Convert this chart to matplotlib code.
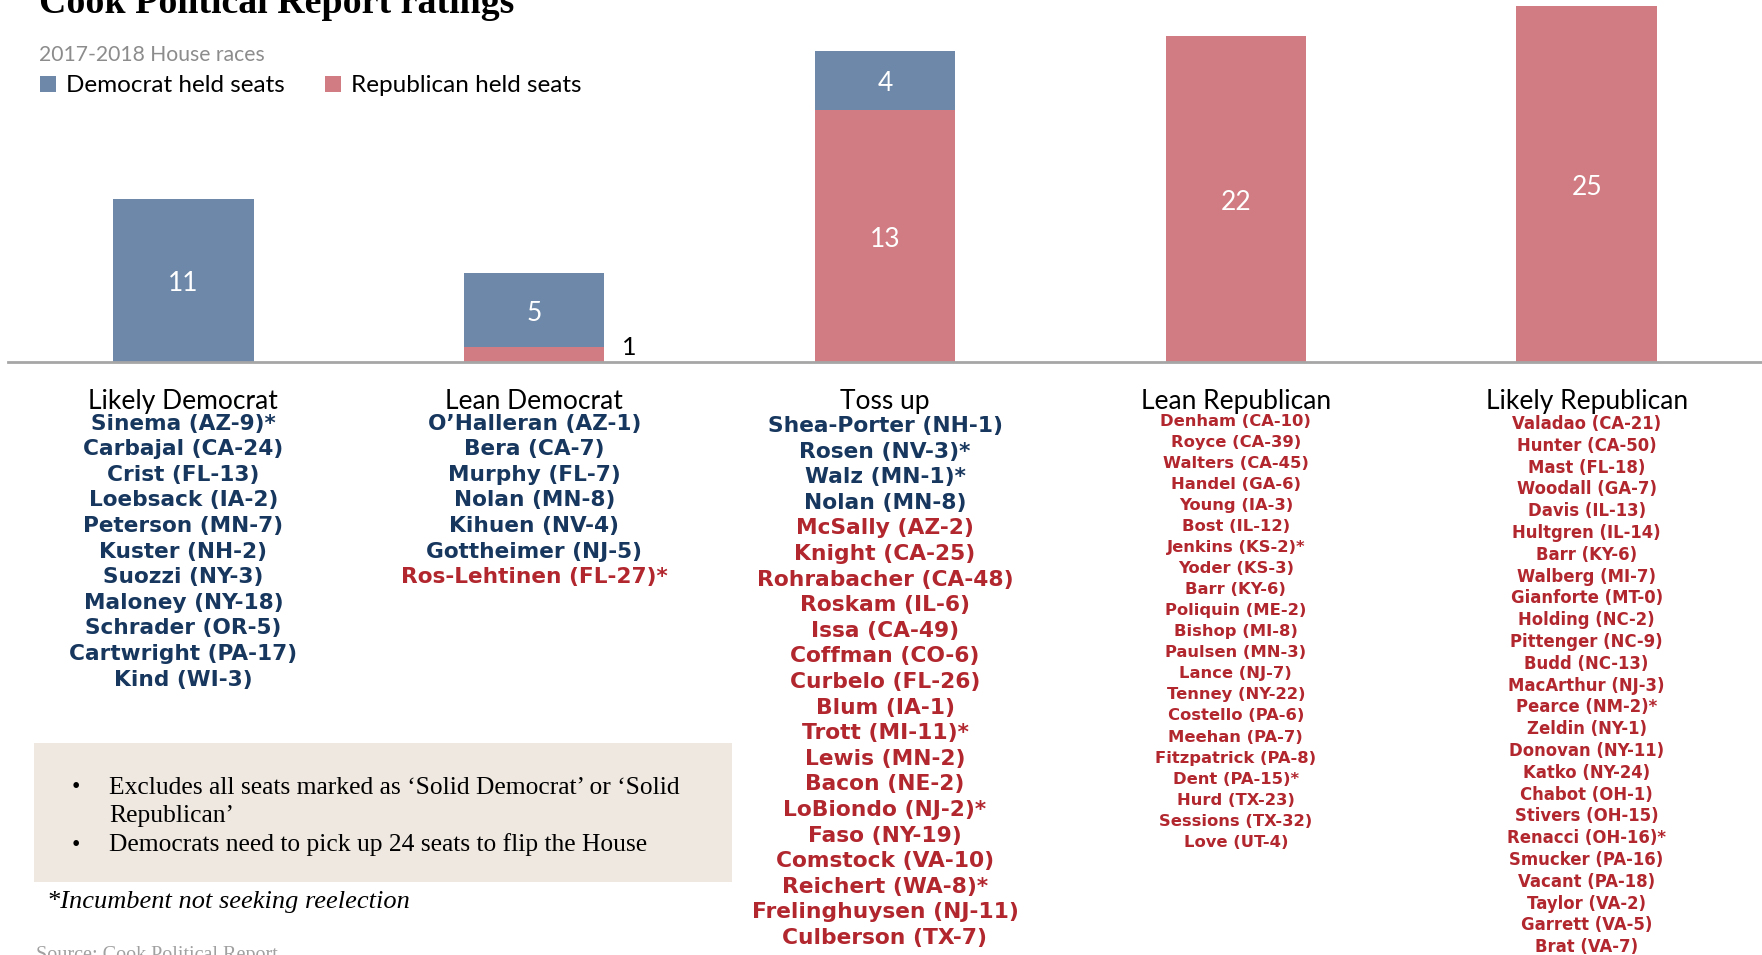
import matplotlib.pyplot as plt
from matplotlib.patches import Rectangle
from matplotlib.transforms import blended_transform_factory

# bar data (heights as drawn) and the numbers printed on them
categories = ['Likely Democrat', 'Lean Democrat', 'Toss up', 'Lean Republican', 'Likely Republican']
dem_seats = [11, 5, 4, 0, 0]
rep_seats = [0, 1, 17, 22, 24]
dem_labels = ['11', '5', '4', '', '']
rep_labels = ['', '1', '13', '22', '25']

# names under each category: democrat held first, then republican held
likely_dem_d = ['Sinema (AZ-9)*', 'Carbajal (CA-24)', 'Crist (FL-13)', 'Loebsack (IA-2)',
                'Peterson (MN-7)', 'Kuster (NH-2)', 'Suozzi (NY-3)', 'Maloney (NY-18)',
                'Schrader (OR-5)', 'Cartwright (PA-17)', 'Kind (WI-3)']
likely_dem_r = []
lean_dem_d = ['O\u2019Halleran (AZ-1)', 'Bera (CA-7)', 'Murphy (FL-7)', 'Nolan (MN-8)',
              'Kihuen (NV-4)', 'Gottheimer (NJ-5)']
lean_dem_r = ['Ros-Lehtinen (FL-27)*']
toss_up_d = ['Shea-Porter (NH-1)', 'Rosen (NV-3)*', 'Walz (MN-1)*', 'Nolan (MN-8)']
toss_up_r = ['McSally (AZ-2)', 'Knight (CA-25)', 'Rohrabacher (CA-48)', 'Roskam (IL-6)',
             'Issa (CA-49)', 'Coffman (CO-6)', 'Curbelo (FL-26)', 'Blum (IA-1)',
             'Trott (MI-11)*', 'Lewis (MN-2)', 'Bacon (NE-2)', 'LoBiondo (NJ-2)*',
             'Faso (NY-19)', 'Comstock (VA-10)', 'Reichert (WA-8)*',
             'Frelinghuysen (NJ-11)', 'Culberson (TX-7)']
lean_rep_d = []
lean_rep_r = ['Denham (CA-10)', 'Royce (CA-39)', 'Walters (CA-45)', 'Handel (GA-6)',
              'Young (IA-3)', 'Bost (IL-12)', 'Jenkins (KS-2)*', 'Yoder (KS-3)',
              'Barr (KY-6)', 'Poliquin (ME-2)', 'Bishop (MI-8)', 'Paulsen (MN-3)',
              'Lance (NJ-7)', 'Tenney (NY-22)', 'Costello (PA-6)', 'Meehan (PA-7)',
              'Fitzpatrick (PA-8)', 'Dent (PA-15)*', 'Hurd (TX-23)', 'Sessions (TX-32)',
              'Love (UT-4)']
likely_rep_d = []
likely_rep_r = ['Valadao (CA-21)', 'Hunter (CA-50)', 'Mast (FL-18)', 'Woodall (GA-7)',
                'Davis (IL-13)', 'Hultgren (IL-14)', 'Barr (KY-6)', 'Walberg (MI-7)',
                'Gianforte (MT-0)', 'Holding (NC-2)', 'Pittenger (NC-9)', 'Budd (NC-13)',
                'MacArthur (NJ-3)', 'Pearce (NM-2)*', 'Zeldin (NY-1)', 'Donovan (NY-11)',
                'Katko (NY-24)', 'Chabot (OH-1)', 'Stivers (OH-15)', 'Renacci (OH-16)*',
                'Smucker (PA-16)', 'Vacant (PA-18)', 'Taylor (VA-2)', 'Garrett (VA-5)',
                'Brat (VA-7)']

notes = ['Excludes all seats marked as \u2018Solid Democrat\u2019 or \u2018Solid\nRepublican\u2019',
         'Democrats need to pick up 24 seats to flip the House']

BLUE = '#6D88A8'
RED = '#D07C82'
DEM_TXT = '#17375E'
REP_TXT = '#B2262E'

W, H = 1762, 955
fig = plt.figure(figsize=(W / 100, H / 100), dpi=100)

# bar axes: baseline at y=362px, spans whole width
ax = fig.add_axes([8 / W, 1 - 362 / H, (W - 8) / W, 362 / H])
x = list(range(len(categories)))
rep_bars = ax.bar(x, rep_seats, width=0.4, color=RED, label='Republican held seats')
dem_bars = ax.bar(x, dem_seats, width=0.4, bottom=rep_seats, color=BLUE,
                  label='Democrat held seats')
ax.set_xlim(-0.5, 4.5)
ax.set_ylim(0, 362 / 14.82)
ax.axis('off')
ax.axhline(0, color='#A6A6A6', lw=2, clip_on=False)

dy = -0.22  # nudge labels a touch below the segment middle
for i in x:
    if rep_labels[i]:
        if rep_seats[i] < 2:
            ax.text(i + 0.27, rep_seats[i] / 2 + 0.5, rep_labels[i], ha='center', va='center',
                    fontsize=18, color='black', family='Lato')
        else:
            ax.text(i, rep_seats[i] / 2 + dy, rep_labels[i], ha='center', va='center',
                    fontsize=19, color='white', family='Lato')
    if dem_labels[i]:
        ax.text(i, rep_seats[i] + dem_seats[i] / 2 + dy, dem_labels[i], ha='center',
                va='center', fontsize=19, color='white', family='Lato')

# overlay in pixel coordinates for everything else
over = fig.add_axes([0, 0, 1, 1])
over.set_xlim(0, W)
over.set_ylim(H, 0)
over.axis('off')
tr = blended_transform_factory(ax.transData, over.transData)

fig.text(39 / W, 1 - 13 / H, 'Cook Political Report ratings', ha='left', va='baseline',
         fontsize=27.3, fontweight='bold', family='Liberation Serif')
over.text(39, 55, '2017-2018 House races', ha='left', va='center', fontsize=15.2,
          color='#8C8C8C', family='Lato')

fig.legend(handles=[dem_bars, rep_bars], labels=['Democrat held seats', 'Republican held seats'],
           loc='center left', bbox_to_anchor=(40 / W, 1 - 86 / H), ncol=2, frameon=False,
           prop={'family': 'Lato', 'size': 17.5}, handlelength=0.66,
           handleheight=0.66, handletextpad=0.42, columnspacing=1.65, borderpad=0,
           borderaxespad=0)

columns = [(likely_dem_d, likely_dem_r, 423.6, 25.6, 15.6),
           (lean_dem_d, lean_dem_r, 423.6, 25.6, 15.6),
           (toss_up_d, toss_up_r, 426, 25.6, 15.7),
           (lean_rep_d, lean_rep_r, 421, 21.07, 11.75),
           (likely_rep_d, likely_rep_r, 424, 21.8, 11.9)]

for i, (dnames, rnames, y0, step, fs) in enumerate(columns):
    over.text(i, 401, categories[i], transform=tr, ha='center', va='center',
              fontsize=19, family='Lato')
    names = [(n, DEM_TXT) for n in dnames] + [(n, REP_TXT) for n in rnames]
    for k, (n, c) in enumerate(names):
        over.text(i, y0 + k * step, n, transform=tr, ha='center', va='center',
                  fontsize=fs, fontweight='bold', color=c, family='DejaVu Sans')

# note box
over.add_patch(Rectangle((34, 743), 698, 139, color='#EFE8E1', lw=0))
over.text(76, 787, '\u2022', ha='center', va='center', fontsize=17, family='Liberation Serif')
over.text(109, 802, notes[0], ha='left', va='center', fontsize=18.4, family='Liberation Serif',
          linespacing=1.31)
over.text(76, 845, '\u2022', ha='center', va='center', fontsize=17, family='Liberation Serif')
over.text(109, 845, notes[1], ha='left', va='center', fontsize=18.4, family='Liberation Serif')

over.text(47, 902, '*Incumbent not seeking reelection', ha='left', va='center', fontsize=19,
          style='italic', family='Liberation Serif')
over.text(36, 960, 'Source: Cook Political Report', ha='left', va='baseline', fontsize=14.5,
          color='#A0A0A0', family='Liberation Serif')

fig.savefig('out.png', dpi=100)
